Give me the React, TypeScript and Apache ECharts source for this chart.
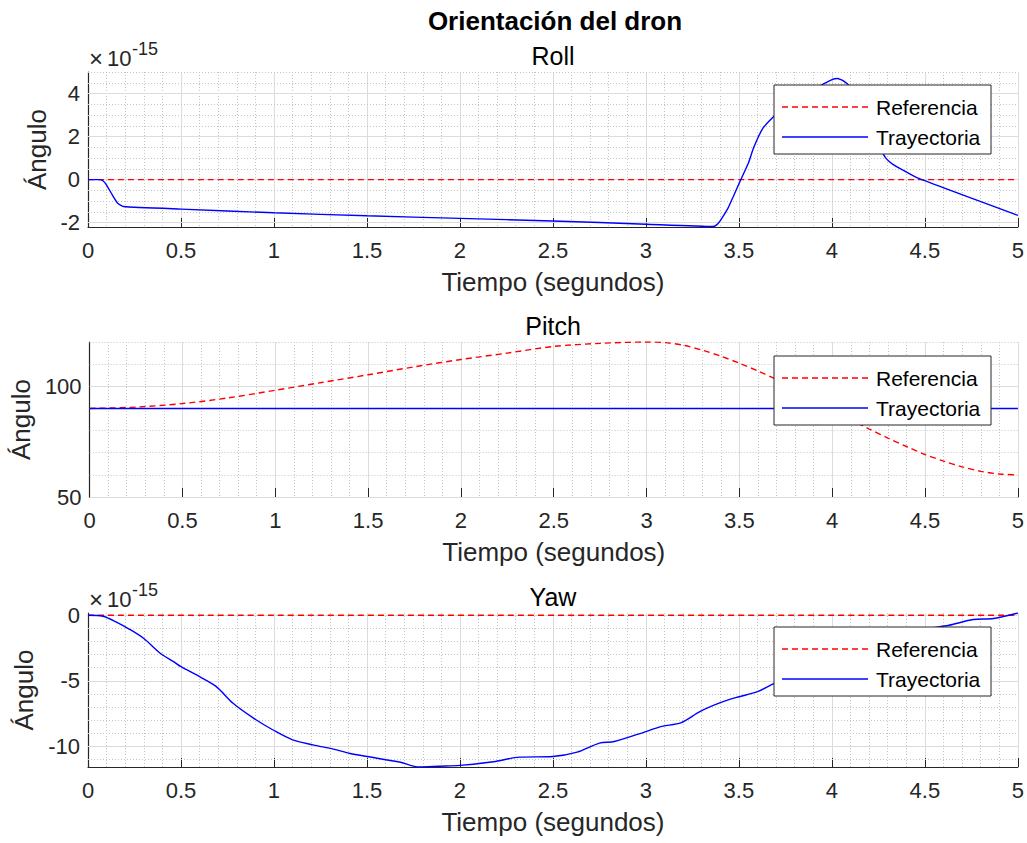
import React, { useEffect, useRef } from "react";
import * as echarts from "echarts";

// ---------- data ----------
const rollRefT = [0, 5];
const rollRefV = [0, 0];
const rollTrajT = [0, 0.06, 0.08, 0.1, 0.13, 0.16, 0.19, 0.5, 1.0, 1.5, 2.0, 2.5, 3.0, 3.36, 3.38, 3.4, 3.44, 3.47, 3.51, 3.55, 3.58, 3.63, 3.69, 3.75, 3.85, 3.95, 4.0, 4.03, 4.06, 4.1, 4.15, 4.2, 4.25, 4.29, 4.33, 4.37, 4.46, 5.0];
const rollTrajV = [0, 0, -0.05, -0.25, -0.7, -1.1, -1.25, -1.37, -1.54, -1.68, -1.8, -1.92, -2.07, -2.18, -2.1, -1.9, -1.35, -0.78, 0, 0.75, 1.5, 2.4, 2.96, 3.4, 3.95, 4.42, 4.65, 4.7, 4.6, 4.3, 3.5, 2.5, 1.6, 1.0, 0.7, 0.5, 0.08, -1.66];

const pitchRefT = [0, 0.25, 0.5, 0.75, 1.0, 1.25, 1.5, 1.75, 2.0, 2.25, 2.5, 2.75, 3.0, 3.1, 3.2, 3.3, 3.4, 3.5, 3.6, 3.7, 3.8, 3.9, 4.0, 4.1, 4.2, 4.3, 4.4, 4.5, 4.6, 4.7, 4.8, 4.9, 5.0];
const pitchRefV = [90, 90.6, 92.2, 94.8, 98.2, 101.7, 105.2, 108.8, 112.1, 115.0, 118.0, 119.4, 120, 119.7, 118.5, 116.3, 113.6, 110.4, 106.9, 103.0, 98.5, 94, 89.5, 85, 80.7, 76.6, 72.8, 69.2, 66.2, 63.6, 61.6, 60.4, 60.0];
const pitchTrajT = [0, 5];
const pitchTrajV = [90, 90];

const yawRefT = [0, 5];
const yawRefV = [0, 0];
const yawTrajT = [0, 0.08, 0.15, 0.226, 0.3, 0.39, 0.46, 0.5, 0.6, 0.69, 0.78, 0.89, 1.0, 1.1, 1.21, 1.32, 1.41, 1.5, 1.68, 1.78, 1.89, 2.0, 2.18, 2.32, 2.5, 2.63, 2.75, 2.83, 3.0, 3.08, 3.19, 3.29, 3.4, 3.49, 3.6, 3.69, 3.8, 3.9, 4.0, 4.1, 4.2, 4.3, 4.4, 4.5, 4.63, 4.76, 4.87, 5.0];
const yawTrajV = [0, -0.08, -0.5, -1.09, -1.77, -2.91, -3.54, -3.92, -4.68, -5.44, -6.71, -7.84, -8.78, -9.49, -9.87, -10.2, -10.53, -10.76, -11.2, -11.56, -11.5, -11.44, -11.16, -10.81, -10.76, -10.43, -9.74, -9.62, -8.86, -8.48, -8.18, -7.34, -6.66, -6.25, -5.82, -5.19, -4.5, -3.9, -3.3, -2.7, -2.2, -1.8, -1.4, -1.05, -0.76, -0.33, -0.25, 0.17];

// tick labels / grid values
const rollTicks = [-2, 0, 2, 4];
const rollMinor = [-1.5, -1, -0.5, 0.5, 1, 1.5, 2.5, 3, 3.5, 4.5, 5];
const pitchTicks = [50, 100];
const pitchMinor = [60, 70, 80, 90, 110, 120];
const yawTicks = [-10, -5, 0];
const yawMinor = [-11, -9, -8, -7, -6, -4, -3, -2, -1];

const panelTitles = ["Roll", "Pitch", "Yaw"];
const seriesNames = ["Referencia", "Trayectoria"];
const mainTitle = "Orientación del dron";
const xName = "Tiempo (segundos)";
const yName = "Ángulo";

const FONT = '"Liberation Sans", Arial, Helvetica, sans-serif';
const AX = "#262626";

function zip(t: number[], v: number[]) {
  return t.map((x, i) => [x, v[i]]);
}

export default function App() {
  const ref = useRef<HTMLDivElement>(null);
  useEffect(() => {
    document.body.style.margin = "0";
    const chart = echarts.init(ref.current!, null, { renderer: "svg" });

    const grids = [
      { left: 88, right: 9, top: 72, height: 155 },
      { left: 88, right: 9, top: 342, height: 155 },
      { left: 88, right: 9, top: 613, height: 154 },
    ];
    const yRanges = [
      { min: -2.2, max: 5 },
      { min: 50, max: 120 },
      { min: -11.56, max: 0.17 },
    ];
    const ticks = [rollTicks, pitchTicks, yawTicks];
    const minors = [rollMinor, pitchMinor, yawMinor];
    const refs = [zip(rollRefT, rollRefV), zip(pitchRefT, pitchRefV), zip(yawRefT, yawRefV)];
    const trajs = [zip(rollTrajT, rollTrajV), zip(pitchTrajT, pitchTrajV), zip(yawTrajT, yawTrajV)];
    const smooths = [0.15, 0.3, 0.3];

    const xAxis = grids.map((_, i) => ({
      type: "value",
      gridIndex: i,
      min: 0,
      max: 5,
      interval: 0.5,
      name: xName,
      nameLocation: "middle",
      nameGap: 42,
      nameTextStyle: { fontSize: 26, color: AX, fontFamily: FONT },
      axisLine: { onZero: false, lineStyle: { color: AX, width: 1.2 } },
      axisTick: { inside: true, length: 9, lineStyle: { color: AX } },
      axisLabel: { fontSize: 22, color: AX, fontFamily: FONT, margin: 12 },
      splitLine: { show: true, lineStyle: { color: "#dcdcdc", width: 1 } },
      minorTick: { show: false, splitNumber: 5 },
      minorSplitLine: { show: true, lineStyle: { color: "#c4c4c4", width: 1, type: [1, 2] } },
    }));

    const yAxis = grids.map((_, i) => ({
      type: "value",
      gridIndex: i,
      min: yRanges[i].min,
      max: yRanges[i].max,
      name: yName,
      nameLocation: "middle",
      nameGap: 36,
      nameTextStyle: { fontSize: 26, color: AX, fontFamily: FONT },
      axisLine: { show: true, onZero: false, lineStyle: { color: AX, width: 1.2 } },
      axisTick: { show: true, inside: true, length: 9, customValues: ticks[i], lineStyle: { color: AX } },
      axisLabel: { fontSize: 22, color: AX, fontFamily: FONT, margin: 8, customValues: ticks[i] },
      splitLine: { show: false },
    }));

    const series: any[] = [];
    grids.forEach((_, i) => {
      series.push({
        type: "line",
        xAxisIndex: i,
        yAxisIndex: i,
        data: [],
        z: 1,
        silent: true,
        markLine: {
          z: 1,
          silent: true,
          symbol: ["none", "none"],
          label: { show: false },
          animation: false,
          data: [
            ...minors[i].map((v) => ({ yAxis: v, lineStyle: { color: "#c4c4c4", width: 1, type: [1, 2] } })),
            ...ticks[i].map((v) => ({ yAxis: v, lineStyle: { color: "#dcdcdc", width: 1, type: "solid" } })),
          ],
        },
      });
      series.push({
        name: seriesNames[0],
        type: "line",
        xAxisIndex: i,
        yAxisIndex: i,
        data: refs[i],
        symbol: "none",
        smooth: 0.3,
        z: 6,
        lineStyle: { color: "#ff0000", width: 1.4, type: [6, 4] },
      });
      series.push({
        name: seriesNames[1],
        type: "line",
        xAxisIndex: i,
        yAxisIndex: i,
        data: trajs[i],
        symbol: "none",
        smooth: smooths[i],
        z: 7,
        lineStyle: { color: "#0000ff", width: 1.4 },
      });
    });

    const centerX = 553;
    const subY = [56, 326, 596.5];
    const legendTop = [85, 356, 627];

    const graphic: any[] = [
      {
        type: "text",
        x: 555,
        y: 21,
        z: 100,
        style: { text: mainTitle, fontSize: 26, fontWeight: "bold", fontFamily: FONT, fill: "#000", align: "center", verticalAlign: "middle" },
      },
    ];
    panelTitles.forEach((t, i) => {
      graphic.push({
        type: "text",
        x: centerX,
        y: subY[i],
        z: 100,
        style: { text: t, fontSize: 25, fontFamily: FONT, fill: "#000", align: "center", verticalAlign: "middle" },
      });
    });
    // exponent labels
    [58, 599].forEach((cy) => {
      graphic.push({ type: "text", x: 89, y: cy, z: 100, style: { text: "×", fontSize: 24, fontFamily: FONT, fill: AX, align: "left", verticalAlign: "middle" } });
      graphic.push({ type: "text", x: 107, y: cy, z: 100, style: { text: "10", fontSize: 22, fontFamily: FONT, fill: AX, align: "left", verticalAlign: "middle" } });
      graphic.push({ type: "text", x: 132, y: cy - 9.5, z: 100, style: { text: "-15", fontSize: 18, fontFamily: FONT, fill: AX, align: "left", verticalAlign: "middle" } });
    });
    // legends
    legendTop.forEach((top) => {
      graphic.push({
        type: "rect",
        z: 100,
        shape: { x: 774, y: top, width: 217, height: 69 },
        style: { fill: "#ffffff", stroke: AX, lineWidth: 1 },
      });
      const r1 = top + 22;
      const r2 = top + 52;
      graphic.push({ type: "line", z: 101, shape: { x1: 782, y1: r1, x2: 868, y2: r1 }, style: { stroke: "#ff0000", lineWidth: 1.4, lineDash: [6, 4] } });
      graphic.push({ type: "line", z: 101, shape: { x1: 782, y1: r2, x2: 868, y2: r2 }, style: { stroke: "#0000ff", lineWidth: 1.4 } });
      graphic.push({ type: "text", x: 876, y: r1, z: 101, style: { text: seriesNames[0], fontSize: 21, fontFamily: FONT, fill: "#000", align: "left", verticalAlign: "middle" } });
      graphic.push({ type: "text", x: 876, y: r2, z: 101, style: { text: seriesNames[1], fontSize: 21, fontFamily: FONT, fill: "#000", align: "left", verticalAlign: "middle" } });
    });

    chart.setOption({
      animation: false,
      backgroundColor: "#ffffff",
      textStyle: { fontFamily: FONT },
      grid: grids,
      xAxis,
      yAxis,
      series,
      graphic,
    });
    return () => chart.dispose();
  }, []);
  return <div ref={ref} style={{ position: "fixed", left: 0, top: 0, width: 1027, height: 843 }} />;
}
